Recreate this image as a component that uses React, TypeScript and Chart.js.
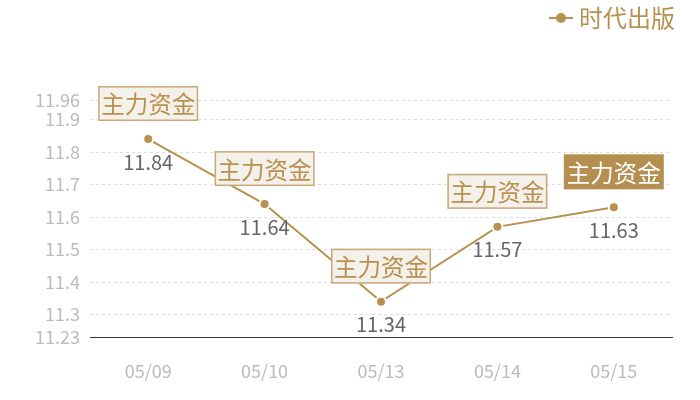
import { useEffect, useRef } from 'react';
import { Chart, registerables } from 'chart.js';

Chart.register(...registerables);

const dates = ['05/09', '05/10', '05/13', '05/14', '05/15'];
const prices = [11.84, 11.64, 11.34, 11.57, 11.63];
const yTicks = [11.23, 11.3, 11.4, 11.5, 11.6, 11.7, 11.8, 11.9, 11.96];
const tagTexts = ['主力资金', '主力资金', '主力资金', '主力资金', '主力资金'];
const tagFilled = [false, false, false, false, true];
const seriesName = '时代出版';

const GOLD = '#b8904f';
const FONT = '"Noto Sans CJK SC", "Noto Sans", sans-serif';

function legendIcon() {
  const c = document.createElement('canvas');
  c.width = 24;
  c.height = 12;
  const ctx = c.getContext('2d')!;
  ctx.strokeStyle = GOLD;
  ctx.lineWidth = 2;
  ctx.beginPath();
  ctx.moveTo(0, 6);
  ctx.lineTo(24, 6);
  ctx.stroke();
  ctx.fillStyle = GOLD;
  ctx.beginPath();
  ctx.arc(12, 6, 5, 0, Math.PI * 2);
  ctx.fill();
  return c;
}

const tagPlugin = {
  id: 'tags',
  afterDatasetsDraw(chart: any) {
    const { ctx } = chart;
    const meta = chart.getDatasetMeta(0);
    ctx.save();
    meta.data.forEach((pt: any, i: number) => {
      const x = pt.x;
      const y = pt.y;
      // value label below point
      ctx.font = `20px ${FONT}`;
      ctx.fillStyle = '#666';
      ctx.textAlign = 'center';
      ctx.textBaseline = 'middle';
      ctx.fillText(String(prices[i]), x, y + 23);
      // tag above point
      ctx.font = `23.5px ${FONT}`;
      const w = 100;
      const h = 35;
      const bx = x - w / 2;
      const by = y - 18 - h;
      if (tagFilled[i]) {
        ctx.fillStyle = '#b48f4f';
        ctx.fillRect(bx, by, w, h);
        ctx.fillStyle = '#fff';
      } else {
        ctx.fillStyle = '#f4f0ea';
        ctx.fillRect(bx, by, w, h);
        ctx.strokeStyle = '#cba878';
        ctx.lineWidth = 1.5;
        ctx.strokeRect(bx + 0.75, by + 0.75, w - 1.5, h - 1.5);
        ctx.fillStyle = GOLD;
      }
      ctx.fillText(tagTexts[i], x, by + h / 2 + 1);
    });
    ctx.restore();
  },
};

export default function App() {
  const canvasRef = useRef<HTMLCanvasElement>(null);

  useEffect(() => {
    if (!canvasRef.current) return;

    const chart = new Chart(canvasRef.current, {
      type: 'line',
      data: {
        labels: dates,
        datasets: [
          {
            label: seriesName,
            data: prices,
            borderColor: GOLD,
            borderWidth: 2,
            backgroundColor: GOLD,
            pointRadius: 5,
            pointBorderColor: '#fff',
            pointBorderWidth: 2,
            pointBackgroundColor: GOLD,
            tension: 0,
          },
        ],
      },
      options: {
        animation: false,
        responsive: false,
        layout: { padding: { top: 0, right: 19, bottom: 3, left: 0 } },
        plugins: {
          tooltip: { enabled: false },
          legend: {
            position: 'top',
            align: 'end',
            labels: {
              usePointStyle: true,
              boxWidth: 12,
              font: { size: 24, family: FONT },
              color: GOLD,
              padding: 6,
              generateLabels: () => [
                {
                  text: seriesName,
                  pointStyle: legendIcon(),
                  fontColor: GOLD,
                  lineWidth: 0,
                  datasetIndex: 0,
                } as any,
              ],
            },
          } as any,
        },
        scales: {
          x: {
            offset: true,
            grid: { display: false },
            border: { display: true, color: '#333', width: 1 },
            ticks: {
              color: '#bbb',
              font: { size: 18, family: FONT },
              padding: 15,
            },
          },
          y: {
            min: 11.23,
            max: 11.96,
            afterBuildTicks: (scale: any) => {
              scale.ticks = yTicks.map((v) => ({ value: v }));
            },
            afterFit: (scale: any) => {
              scale.width = 90;
            },
            grid: { color: '#ddd', drawTicks: false },
            border: { display: false, dash: [3, 3] },
            ticks: {
              color: '#bbb',
              font: { size: 18, family: FONT },
              padding: 10,
              callback: (v: any) => String(v),
            },
          },
          // empty right gutter so the plot ends before the legend's right edge
          gutter: {
            type: 'linear',
            position: 'right',
            grid: { display: false },
            border: { display: false },
            ticks: { display: false },
            afterFit: (scale: any) => {
              scale.width = 9;
            },
          },
        },
      },
      plugins: [
        tagPlugin,
        {
          id: 'legendSpace',
          beforeInit(c: any) {
            const orig = c.legend?.fit;
            if (c.legend && orig) {
              c.legend.fit = function () {
                orig.call(this);
                this.height += 60;
              };
            }
          },
        },
      ],
    });

    return () => chart.destroy();
  }, []);

  return (
    <div style={{ position: 'absolute', left: 0, top: 0, width: 700, height: 400, background: '#fff' }}>
      <canvas ref={canvasRef} width={700} height={400}></canvas>
    </div>
  );
}
